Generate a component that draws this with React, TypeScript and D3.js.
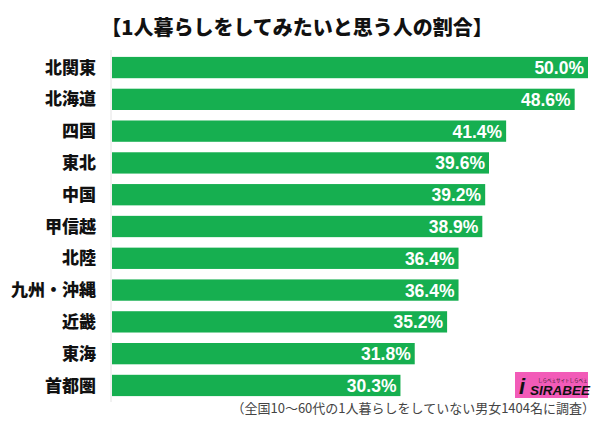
import React from "react";
import * as d3 from "d3";

const categories = ["北関東", "北海道", "四国", "東北", "中国", "甲信越", "北陸", "九州・沖縄", "近畿", "東海", "首都圏"];
const values = [50.0, 48.6, 41.4, 39.6, 39.2, 38.9, 36.4, 36.4, 35.2, 31.8, 30.3];
const title = "【1人暮らしをしてみたいと思う人の割合】";
const footnote = "（全国10～60代の1人暮らしをしていない男女1404名に調査）";

const W = 600;
const H = 421;
const GREEN = "#16AF50";
const JP = "'Noto Sans CJK JP', 'Noto Sans', sans-serif";

export default function App() {
  const x = d3.scaleLinear().domain([0, 50]).range([112, 588]);
  const y = d3
    .scaleBand<string>()
    .domain(categories)
    .range([51.5, 401.5])
    .paddingInner(0.33)
    .paddingOuter(0.17);
  const bh = y.bandwidth();

  return (
    <svg
      width={W}
      height={H}
      style={{ position: "absolute", left: 0, top: 0, background: "#fff" }}
    >
      <rect x={0} y={0} width={W} height={H} fill="#fff" />
      <text
        x={297}
        y={35}
        textAnchor="middle"
        fontFamily={JP}
        fontWeight={900}
        fontSize={20}
        fill="#111"
      >
        {title}
      </text>
      <line x1={111} x2={111} y1={50} y2={402} stroke="#e4e4e4" strokeWidth={1} />
      {categories.map((c, i) => (
        <g key={c}>
          <rect x={x(0)} y={y(c)} width={x(values[i]) - x(0)} height={bh} fill={GREEN} />
          <text
            x={96}
            y={(y(c) as number) + bh / 2}
            dy="0.36em"
            textAnchor="end"
            fontFamily={JP}
            fontWeight={900}
            fontSize={17}
            fill="#111"
          >
            {c}
          </text>
          <text
            x={x(values[i]) - 4}
            y={(y(c) as number) + bh / 2}
            dy="0.37em"
            textAnchor="end"
            fontFamily="'Liberation Sans', Arial, sans-serif"
            fontWeight={700}
            fontSize={17.5}
            fill="#fff"
          >
            {values[i].toFixed(1) + "%"}
          </text>
        </g>
      ))}
      <g>
        <rect x={515} y={372} width={73} height={26} fill="#f25bb8" />
        <text
          x={519}
          y={394}
          fontFamily="'Liberation Sans', Arial, sans-serif"
          fontWeight={700}
          fontStyle="italic"
          fontSize={22}
          fill="#111"
        >
          i
        </text>
        <text
          x={530}
          y={395}
          fontFamily="'Liberation Sans', Arial, sans-serif"
          fontWeight={700}
          fontStyle="italic"
          fontSize={13.5}
          fill="#111"
        >
          SIRABEE
        </text>
        <text x={538} y={382} fontFamily={JP} fontSize={4.5} fill="#111">
          しらべぇサイトしらべぇ
        </text>
      </g>
      <text
        x={595}
        y={413}
        textAnchor="end"
        fontFamily={JP}
        fontSize={13}
        fill="#444"
      >
        {footnote}
      </text>
    </svg>
  );
}
